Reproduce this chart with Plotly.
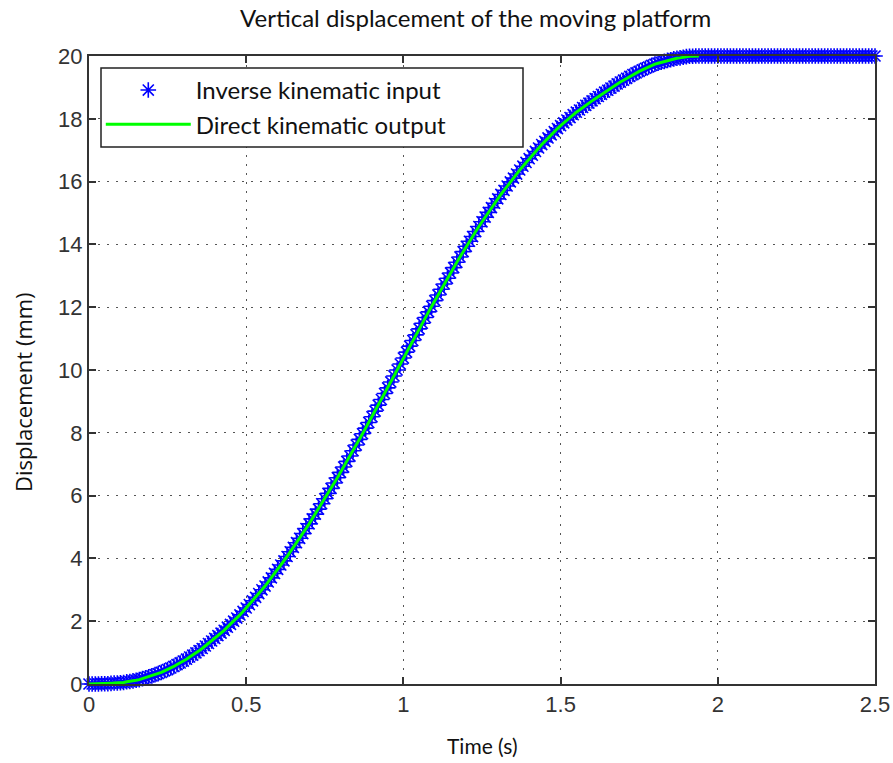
import numpy as np
import plotly.graph_objects as go

# Sampling instants (s)
time_s = [round(i * 0.01, 2) for i in range(251)]

# Inverse kinematic input: vertical displacement (mm)
inverse_input = [
    0.00, 0.00, 0.00, 0.00, 0.01, 0.01, 0.01, 0.02, 0.03, 0.03,
    0.04, 0.05, 0.07, 0.08, 0.10, 0.12, 0.14, 0.17, 0.20, 0.23,
    0.26, 0.30, 0.33, 0.37, 0.42, 0.46, 0.51, 0.56, 0.62, 0.67,
    0.73, 0.79, 0.86, 0.92, 0.99, 1.06, 1.13, 1.21, 1.29, 1.37,
    1.45, 1.54, 1.62, 1.71, 1.81, 1.90, 2.00, 2.10, 2.20, 2.31,
    2.42, 2.53, 2.65, 2.76, 2.88, 3.00, 3.12, 3.25, 3.38, 3.52,
    3.65, 3.79, 3.92, 4.06, 4.21, 4.35, 4.50, 4.64, 4.79, 4.95,
    5.10, 5.26, 5.41, 5.57, 5.74, 5.90, 6.07, 6.23, 6.40, 6.57,
    6.74, 6.91, 7.09, 7.26, 7.43, 7.61, 7.79, 7.97, 8.15, 8.33,
    8.51, 8.69, 8.88, 9.06, 9.25, 9.43, 9.62, 9.81, 10.00, 10.19,
    10.38, 10.57, 10.76, 10.94, 11.12, 11.31, 11.49, 11.67, 11.85, 12.03,
    12.21, 12.39, 12.57, 12.74, 12.92, 13.09, 13.26, 13.43, 13.60, 13.77,
    13.94, 14.10, 14.25, 14.41, 14.57, 14.72, 14.87, 15.02, 15.17, 15.31,
    15.45, 15.59, 15.72, 15.86, 15.99, 16.11, 16.24, 16.37, 16.49, 16.61,
    16.73, 16.84, 16.96, 17.07, 17.18, 17.28, 17.39, 17.49, 17.59, 17.69,
    17.78, 17.87, 17.96, 18.04, 18.13, 18.21, 18.28, 18.36, 18.43, 18.50,
    18.57, 18.64, 18.71, 18.78, 18.85, 18.91, 18.98, 19.04, 19.11, 19.17,
    19.23, 19.29, 19.35, 19.41, 19.46, 19.51, 19.56, 19.61, 19.65, 19.70,
    19.74, 19.77, 19.80, 19.83, 19.86, 19.88, 19.91, 19.93, 19.94, 19.96,
    19.98, 19.99, 19.99, 20.00, 20.00, 20.00, 20.00, 20.00, 20.00, 20.00,
    20.00, 20.00, 20.00, 20.00, 20.00, 20.00, 20.00, 20.00, 20.00, 20.00,
    20.00, 20.00, 20.00, 20.00, 20.00, 20.00, 20.00, 20.00, 20.00, 20.00,
    20.00, 20.00, 20.00, 20.00, 20.00, 20.00, 20.00, 20.00, 20.00, 20.00,
    20.00, 20.00, 20.00, 20.00, 20.00, 20.00, 20.00, 20.00, 20.00, 20.00,
    20.00, 20.00, 20.00, 20.00, 20.00, 20.00, 20.00, 20.00, 20.00, 20.00,
    20.00,
]

# Direct kinematic output ends where the platform reaches the top (~1.94 s)
n_direct = 195
direct_time = time_s[:n_direct]
direct_output = inverse_input[:n_direct]

x_ticks = [0, 0.5, 1, 1.5, 2, 2.5]
x_tick_text = ["0", "0.5", "1", "1.5", "2", "2.5"]
y_ticks = [0, 2, 4, 6, 8, 10, 12, 14, 16, 18, 20]

TITLE_FONT = "Lato, 'Open Sans', sans-serif"
TICK_FONT = "'Liberation Sans', Arial, sans-serif"

fig = go.Figure()
fig.add_trace(go.Scatter(
    x=time_s, y=inverse_input, mode="markers",
    name="Inverse kinematic input", cliponaxis=False,
    marker=dict(symbol="asterisk-open", size=13, color="#0000FF",
                line=dict(color="#0000FF", width=1.6)),
))
fig.add_trace(go.Scatter(
    x=direct_time, y=direct_output, mode="lines",
    name="Direct kinematic output", cliponaxis=False,
    line=dict(color="#00FF00", width=3),
))

axis_common = dict(
    showline=True, linecolor="#333333", linewidth=2, mirror="ticks",
    ticks="inside", ticklen=7, tickwidth=1.5, tickcolor="#333333",
    showgrid=True, gridcolor="#555555", gridwidth=1.3, griddash="2px,7px",
    zeroline=False, automargin=False,
    tickfont=dict(family=TICK_FONT, size=22, color="#333333"),
)

# legend frame (wider than Plotly's auto-sized legend box)
legend_frame = dict(
    type="rect", xref="paper", yref="paper",
    x0=(101 - 89) / 786, x1=(523 - 89) / 786,
    y0=1 - (147 - 56) / 628, y1=1 - (68 - 56) / 628,
    line=dict(color="#222222", width=1.5), fillcolor="white", layer="above",
)

fig.update_layout(
    width=893, height=763,
    margin=dict(l=89, r=18, t=56, b=79),
    paper_bgcolor="white", plot_bgcolor="white",
    title=dict(text="Vertical displacement of the moving platform",
               font=dict(family=TITLE_FONT, size=24, color="#111111"),
               x=0.492, xref="paper", xanchor="center",
               y=1 - 19 / 763, yref="container", yanchor="middle"),
    xaxis=dict(range=[0, 2.5], tickvals=x_ticks, ticktext=x_tick_text,
               **axis_common),
    yaxis=dict(range=[0, 20], tickvals=y_ticks, **axis_common),
    legend=dict(x=0.015, y=0.981, xanchor="left", yanchor="top",
                bgcolor="rgba(0,0,0,0)", borderwidth=0,
                font=dict(family=TITLE_FONT, size=24, color="#111111"),
                itemwidth=85, tracegroupgap=0),
    showlegend=True,
    shapes=[legend_frame],
    annotations=[
        dict(text="Time (s)", xref="paper", yref="paper",
             x=0.5, y=-(745 - 684) / 628, xanchor="center", yanchor="middle",
             showarrow=False,
             font=dict(family=TITLE_FONT, size=21, color="#111111")),
        dict(text="Displacement (mm)", xref="paper", yref="paper",
             x=(23 - 89) / 786, y=1 - (392 - 56) / 628,
             xanchor="center", yanchor="middle", textangle=-90,
             showarrow=False,
             font=dict(family="'Open Sans', sans-serif", size=22, color="#111111")),
    ],
)

fig.write_html("out.html")
